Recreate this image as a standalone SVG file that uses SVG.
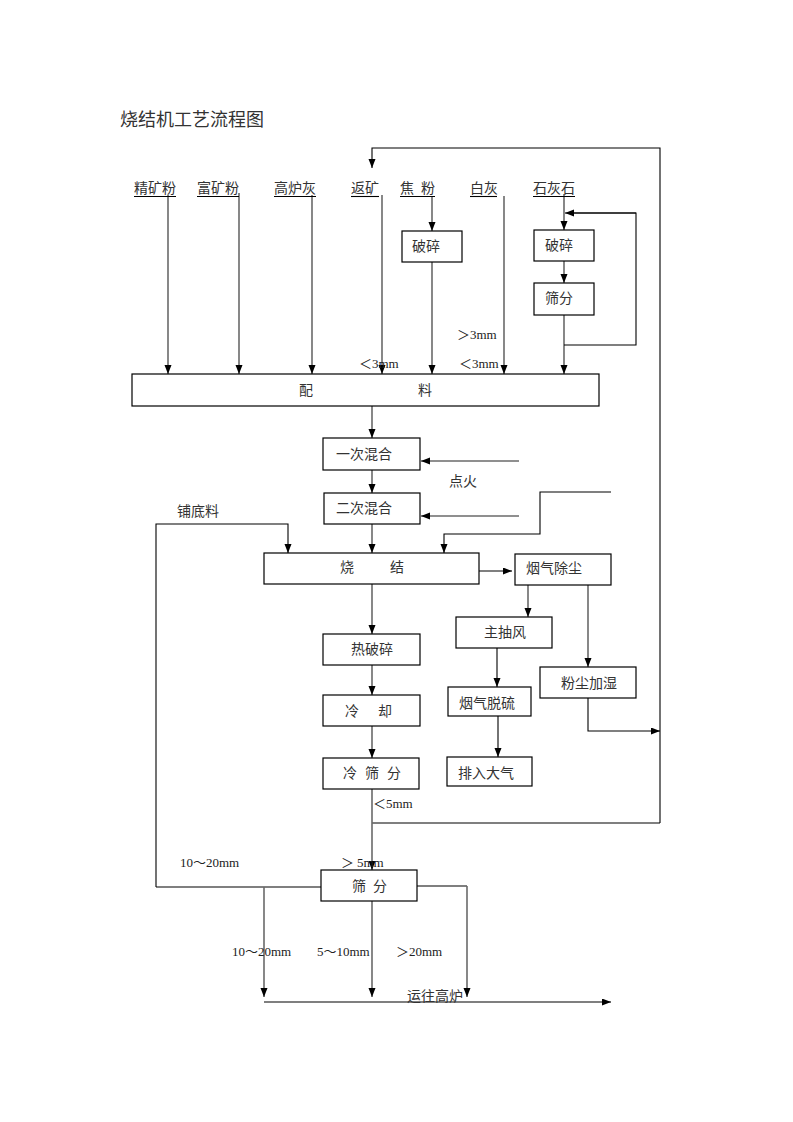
<svg xmlns="http://www.w3.org/2000/svg" width="793" height="1122" viewBox="0 0 793 1122">
<style>
.bg{fill:#fff}
.box{fill:#fff;stroke:#000;stroke-width:1.2}
.t{font-family:"Noto Sans CJK SC","Liberation Serif",serif;font-size:14px;fill:#333}
.m{font-family:"Liberation Serif","Noto Sans CJK SC",serif;font-size:13px;fill:#222}
.title{font-family:"Noto Sans CJK SC",sans-serif;font-size:18px;fill:#333}
.g{fill:none;stroke:#6a6a6a;stroke-width:1.6}
.k{fill:none;stroke:#000;stroke-width:1.1}
.a{marker-end:url(#ah)}
.u{stroke:#000;stroke-width:1.1}
</style>
<defs>
<marker id="ah" markerUnits="userSpaceOnUse" markerWidth="10" markerHeight="8" refX="9" refY="3.5" orient="auto">
<path d="M0,0 L9,3.5 L0,7 z" fill="#000"/>
</marker>
</defs>
<rect class="bg" x="0" y="0" width="793" height="1122"/>
<text class="title" x="120" y="126">烧结机工艺流程图</text>

<g id="connectors">
<path class="g a" d="M168,195 V374"/>
<path class="g a" d="M239,193 V374"/>
<path class="g a" d="M312,195 V374"/>
<path class="g a" d="M382,195 V374"/>
<path class="g a" d="M432,196 V231"/>
<path class="g a" d="M432,262 V374"/>
<path class="g a" d="M504,196 V374"/>
<path class="g a" d="M564,194 V230"/>
<path class="g a" d="M564,261 V283"/>
<path class="g a" d="M564,315 V374"/>
<path class="k" d="M564,345 H636 V213 H574"/>
<path class="k a" d="M636,213 H565"/>
<path class="k a" d="M660,823 V148 H372 V168"/>
<path class="k" d="M372,823 H660"/>
<path class="g a" d="M372,406 V438"/>
<path class="g a" d="M519,461 H421"/>
<path class="g a" d="M372,470 V493"/>
<path class="g a" d="M519,516 H421"/>
<path class="k a" d="M611,492 H540 V534 H444 V553"/>
<path class="k a" d="M156,887 V524 H288 V553"/>
<path class="g a" d="M372,524 V553"/>
<path class="k a" d="M479,571 H512"/>
<path class="g a" d="M372,584 V634"/>
<path class="g a" d="M372,665 V695"/>
<path class="g a" d="M372,726 V758"/>
<path class="g a" d="M372,789 V870"/>
<path class="g a" d="M528,585 V617"/>
<path class="g a" d="M588,585 V667"/>
<path class="k a" d="M497,648 V687"/>
<path class="k a" d="M498,716 V757"/>
<path class="k a" d="M588,698 V731 H660"/>
<path class="k" d="M156,887 H336"/>
<path class="g a" d="M264,887 V997"/>
<path class="g a" d="M372,898 V997"/>
<path class="k" d="M408,886 H467"/>
<path class="g a" d="M467,886 V997"/>
<path class="k a" d="M264,1002 H611"/>
</g>

<g id="labels-top">
<text class="t" x="134" y="193">精矿粉</text><line class="u" x1="134" y1="196.5" x2="176" y2="196.5"/>
<text class="t" x="197" y="193">富矿粉</text><line class="u" x1="197" y1="196.5" x2="239" y2="196.5"/>
<text class="t" x="274" y="193">高炉灰</text><line class="u" x1="274" y1="196.5" x2="316" y2="196.5"/>
<text class="t" x="351" y="193">返矿</text><line class="u" x1="351" y1="196.5" x2="379" y2="196.5"/>
<text class="t" x="400" y="193">焦<tspan x="421">粉</tspan></text><line class="u" x1="400" y1="196.5" x2="435" y2="196.5"/>
<text class="t" x="470" y="193">白灰</text><line class="u" x1="470" y1="196.5" x2="497" y2="196.5"/>
<text class="t" x="533" y="193">石灰石</text><line class="u" x1="533" y1="196.5" x2="575" y2="196.5"/>
</g>

<g id="node-coke-crush"><rect class="box" x="402" y="231" width="60" height="31"/><text class="t" x="412" y="251">破碎</text></g>
<g id="node-lime-crush"><rect class="box" x="534" y="230" width="60" height="31"/><text class="t" x="545" y="250">破碎</text></g>
<g id="node-lime-screen"><rect class="box" x="534" y="283" width="60" height="32"/><text class="t" x="545" y="303">筛分</text></g>

<g id="labels-size-top">
<text class="m" x="457" y="339">＞3mm</text>
<text class="m" x="359" y="368">＜3mm</text>
<text class="m" x="459" y="368">＜3mm</text>
</g>

<g id="node-batching"><rect class="box" x="132" y="374" width="467" height="32"/><text class="t" x="299" y="395">配</text><text class="t" x="418" y="395">料</text></g>
<g id="node-mix1"><rect class="box" x="323" y="438" width="97" height="32"/><text class="t" x="336" y="459">一次混合</text></g>
<text class="t" x="449" y="486">点火</text>
<g id="node-mix2"><rect class="box" x="324" y="493" width="96" height="31"/><text class="t" x="336" y="513">二次混合</text></g>
<text class="t" x="177" y="516">铺底料</text>
<g id="node-sinter"><rect class="box" x="264" y="553" width="215" height="31"/><text class="t" x="340" y="572">烧</text><text class="t" x="390" y="572">结</text></g>
<g id="node-dust"><rect class="box" x="515" y="554" width="96" height="31"/><text class="t" x="526" y="573">烟气除尘</text></g>
<g id="node-fan"><rect class="box" x="456" y="617" width="96" height="31"/><text class="t" x="484" y="637">主抽风</text></g>
<g id="node-hotcrush"><rect class="box" x="323" y="634" width="97" height="31"/><text class="t" x="351" y="654">热破碎</text></g>
<g id="node-humid"><rect class="box" x="540" y="667" width="96" height="31"/><text class="t" x="561" y="688">粉尘加湿</text></g>
<g id="node-desulf"><rect class="box" x="448" y="687" width="83" height="29"/><text class="t" x="459" y="708">烟气脱硫</text></g>
<g id="node-cool"><rect class="box" x="323" y="695" width="97" height="31"/><text class="t" x="345" y="716">冷<tspan x="378">却</tspan></text></g>
<g id="node-coldscreen"><rect class="box" x="323" y="758" width="96" height="31"/><text class="t" x="343" y="778">冷<tspan x="365">筛</tspan><tspan x="387">分</tspan></text></g>
<g id="node-exhaust"><rect class="box" x="447" y="757" width="85" height="29"/><text class="t" x="458" y="778">排入大气</text></g>

<text class="m" x="373" y="808">＜5mm</text>
<text class="m" x="180" y="867">10～20mm</text>
<text class="m" x="341" y="867">＞<tspan x="357">5mm</tspan></text>
<g id="node-screen"><rect class="box" x="321" y="870" width="96" height="31"/><text class="t" x="352" y="891">筛<tspan x="373">分</tspan></text></g>
<text class="m" x="232" y="956">10～20mm</text>
<text class="m" x="317" y="956">5～10mm</text>
<text class="m" x="396" y="956">＞20mm</text>
<text class="t" x="407" y="1001">运往高炉</text>
</svg>
